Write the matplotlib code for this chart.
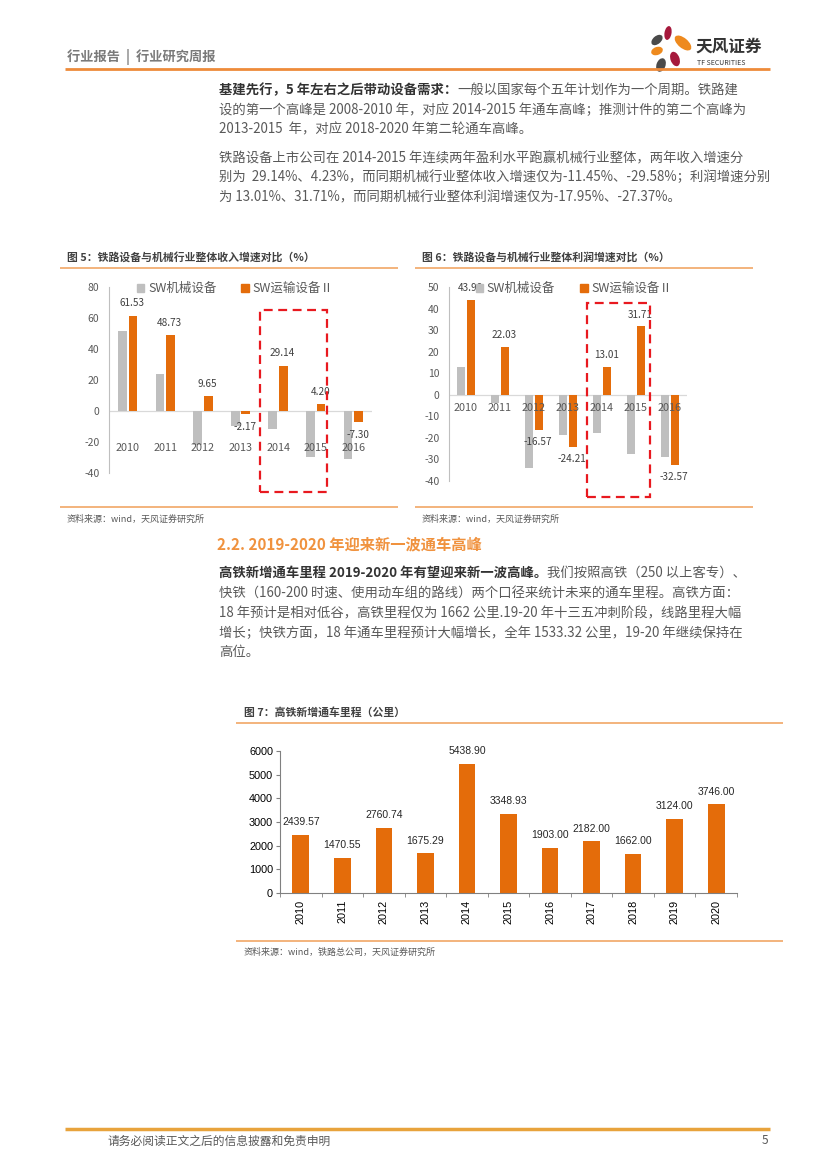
import numpy as np
import matplotlib
matplotlib.use('Agg')
import matplotlib.pyplot as plt
from matplotlib.patches import Rectangle, Ellipse, Patch

plt.rcParams['font.family'] = ['Noto Sans CJK SC', 'DejaVu Sans']
plt.rcParams['axes.unicode_minus'] = False

# ---- data: 图5 / 图6 ----
years_a = ['2010', '2011', '2012', '2013', '2014', '2015', '2016']
series_names = ['SW机械设备', 'SW运输设备Ⅱ']
rev_machinery = [51.5, 24.0, -22.0, -9.5, -11.45, -29.58, -31.0]
rev_transport = [61.53, 48.73, 9.65, -2.17, 29.14, 4.20, -7.30]
profit_machinery = [12.8, -3.8, -34.0, -18.7, -17.95, -27.37, -28.9]
profit_transport = [43.98, 22.03, -16.57, -24.21, 13.01, 31.71, -32.57]

# ---- data: 图7 ----
years_b = ['2010', '2011', '2012', '2013', '2014', '2015', '2016',
           '2017', '2018', '2019', '2020']
mileage = [2439.57, 1470.55, 2760.74, 1675.29, 5438.90, 3348.93,
           1903.00, 2182.00, 1662.00, 3124.00, 3746.00]

ORANGE = '#E46C0A'
GRAY = '#BFBFBF'
TXT = '#595959'
DARK = '#333333'
PEACH = '#F2AE72'

W, H = 827, 1169
fig = plt.figure(figsize=(W / 100, H / 100), dpi=100)
page = fig.add_axes([0, 0, 1, 1])
page.set_xlim(0, W)
page.set_ylim(H, 0)
page.axis('off')


def hline(x0, x1, y, color, lw):
    page.plot([x0, x1], [y, y], color=color, lw=lw, solid_capstyle='butt')


def axes_px(l, t, r, b):
    return fig.add_axes([l / W, 1 - b / H, (r - l) / W, (b - t) / H])


def body(y, text, bold=None, x=219, size=9.6):
    if bold:
        t = page.text(x, y, bold, fontsize=size, fontweight='bold',
                      color=DARK, va='center')
        page.annotate(text, xy=(1, 0), xycoords=t, va='bottom', ha='left',
                      fontsize=size, color=TXT)
    else:
        page.text(x, y, text, fontsize=size, color=TXT, va='center')


# header
page.text(67, 57, '行业报告  |  行业研究周报', fontsize=9.5, fontweight='bold',
          color='#7A7A7A', va='center')
hline(65, 770, 69, '#EE8B3A', 2)
petals = [((668, 33), 7, 14, 10, '#A6193C'),
          ((683, 43), 10, 20, -50, '#EE8A1E'),
          ((657, 40), 8, 13, 50, '#4A4A4A'),
          ((657, 51), 8, 12, 70, '#EE8A1E'),
          ((675, 59), 9, 15, -20, '#A6193C'),
          ((661, 65), 9, 14, 20, '#4A4A4A')]
for c, w, h, a, col in petals:
    page.add_patch(Ellipse(c, w, h, angle=a, color=col, lw=0))
page.text(695, 47, '天风证券', fontsize=12, fontweight='bold', color=DARK, va='center')
page.text(697, 63, 'TF SECURITIES', fontsize=5, color=DARK, va='center')

# paragraph 1 & 2
body(90, '一般以国家每个五年计划作为一个周期。铁路建', bold='基建先行，5 年左右之后带动设备需求：')
body(110, '设的第一个高峰是 2008-2010 年，对应 2014-2015 年通车高峰；推测计件的第二个高峰为')
body(129, '2013-2015  年，对应 2018-2020 年第二轮通车高峰。')
body(158, '铁路设备上市公司在 2014-2015 年连续两年盈利水平跑赢机械行业整体，两年收入增速分')
body(177, '别为  29.14%、4.23%，而同期机械行业整体收入增速仅为-11.45%、-29.58%；利润增速分别')
body(197, '为 13.01%、31.71%，而同期机械行业整体利润增速仅为-17.95%、-27.37%。')

# chart headers / sources
page.text(67, 257, '图 5：铁路设备与机械行业整体收入增速对比（%）', fontsize=7.8,
          fontweight='bold', color='#404040', va='center')
page.text(422, 257, '图 6：铁路设备与机械行业整体利润增速对比（%）', fontsize=7.8,
          fontweight='bold', color='#404040', va='center')
hline(60, 398, 268, PEACH, 1.3)
hline(415, 753, 268, PEACH, 1.3)
hline(60, 398, 507, PEACH, 1.3)
hline(415, 753, 507, PEACH, 1.3)
page.text(67, 519, '资料来源：wind，天风证券研究所', fontsize=6.5, color=TXT, va='center')
page.text(422, 519, '资料来源：wind，天风证券研究所', fontsize=6.5, color=TXT, va='center')


def growth_chart(box, gray_vals, orange_vals, ylim, step, year_y, off, leg_x, frame):
    ax = axes_px(*box)
    x = np.arange(len(years_a))
    ax.bar(x - 0.14, gray_vals, 0.23, color=GRAY, zorder=2)
    ax.bar(x + 0.14, orange_vals, 0.23, color=ORANGE, zorder=2)
    ax.set_xlim(-0.5, len(years_a) - 0.5)
    ax.set_ylim(*ylim)
    ax.set_yticks(np.arange(ylim[0], ylim[1] + 1, step))
    ax.set_xticks([])
    ax.tick_params(axis='y', length=0, labelsize=7.5, labelcolor=TXT, pad=7)
    for s in ['top', 'right', 'bottom']:
        ax.spines[s].set_visible(False)
    ax.spines['left'].set_color('#BFBFBF')
    ax.spines['left'].set_linewidth(0.8)
    ax.axhline(0, color='#D9D9D9', lw=0.9, zorder=1)
    ax.patch.set_alpha(0)
    for i, v in enumerate(orange_vals):
        ax.text(i + 0.12, v + off if v > 0 else v - off, f'{v:.2f}', ha='center',
                va='center', fontsize=7.2, color='#404040', zorder=3)
    for i, yr in enumerate(years_a):
        ax.text(i, year_y, yr, ha='center', va='center', fontsize=7.8,
                color=TXT, zorder=3)
    ax.legend([Patch(color=GRAY), Patch(color=ORANGE)], series_names,
              loc='center', bbox_to_anchor=(leg_x, 0.99), ncol=2, frameon=False,
              fontsize=9, handlelength=0.6, handleheight=0.6, handletextpad=0.3,
              columnspacing=2.0, labelcolor=TXT, borderaxespad=0)
    x0, x1, y0, y1 = frame
    ax.add_patch(Rectangle((x0, y0), x1 - x0, y1 - y0, fill=False,
                           edgecolor='#E8191F', lw=1.6, ls=(0, (4, 2.5)),
                           clip_on=False, zorder=4))
    return ax


growth_chart((109, 287, 372, 473), rev_machinery, rev_transport, (-40, 80), 20,
             -24, 8, 0.48, (3.52, 5.3, -52.3, 65.2))
growth_chart((449, 287, 687, 481), profit_machinery, profit_transport, (-40, 50), 10,
             -6, 5.5, 0.525, (3.56, 5.41, -47.4, 42.6))

# section 2.2
page.text(217, 544, '2.2. 2019-2020 年迎来新一波通车高峰', fontsize=11,
          fontweight='bold', color='#F0923E', va='center')
body(573, '我们按照高铁（250 以上客专）、', bold='高铁新增通车里程 2019-2020 年有望迎来新一波高峰。')
body(593, '快铁（160-200 时速、使用动车组的路线）两个口径来统计未来的通车里程。高铁方面：')
body(613, '18 年预计是相对低谷，高铁里程仅为 1662 公里.19-20 年十三五冲刺阶段，线路里程大幅')
body(633, '增长；快铁方面，18 年通车里程预计大幅增长，全年 1533.32 公里，19-20 年继续保持在')
body(652, '高位。')

# chart 7
page.text(244, 712, '图 7：高铁新增通车里程（公里）', fontsize=7.8,
          fontweight='bold', color='#404040', va='center')
hline(236, 783, 723, PEACH, 1.3)
hline(236, 783, 941, PEACH, 1.3)
page.text(244, 952, '资料来源：wind，铁路总公司，天风证券研究所', fontsize=6.5,
          color=TXT, va='center')

ax7 = axes_px(280, 751, 737, 893)
x7 = np.arange(len(years_b))
ax7.bar(x7, mileage, 0.4, color=ORANGE, zorder=2)
ax7.set_xlim(-0.5, len(years_b) - 0.5)
ax7.set_ylim(0, 6000)
ax7.set_yticks(range(0, 6001, 1000))
ax7.set_xticks(x7)
ax7.set_xticklabels(years_b, rotation=90, fontfamily='Liberation Sans', fontsize=7.8)
ax7.set_xticks(np.arange(-0.5, len(years_b), 1), minor=True)
ax7.tick_params(axis='x', which='major', length=0, pad=5)
ax7.tick_params(axis='x', which='minor', length=3, color='#808080')
ax7.tick_params(axis='y', length=3, color='#808080', labelsize=7.8, pad=2)
for lab in ax7.get_yticklabels():
    lab.set_fontfamily('Liberation Sans')
for s in ['top', 'right']:
    ax7.spines[s].set_visible(False)
for s in ['left', 'bottom']:
    ax7.spines[s].set_color('#808080')
    ax7.spines[s].set_linewidth(0.8)
ax7.patch.set_alpha(0)
for i, v in enumerate(mileage):
    ax7.text(i, v + 540, f'{v:.2f}', ha='center', va='center', fontsize=7.5,
             fontfamily='Liberation Sans', color='#262626')

# footer
hline(65, 770, 1129, '#E8A33C', 2.5)
page.text(107, 1141, '请务必阅读正文之后的信息披露和免责申明', fontsize=8.5,
          color=TXT, va='center')
page.text(762, 1141, '5', fontsize=8.5, color=TXT, va='center')

fig.savefig('out.png', dpi=100)
